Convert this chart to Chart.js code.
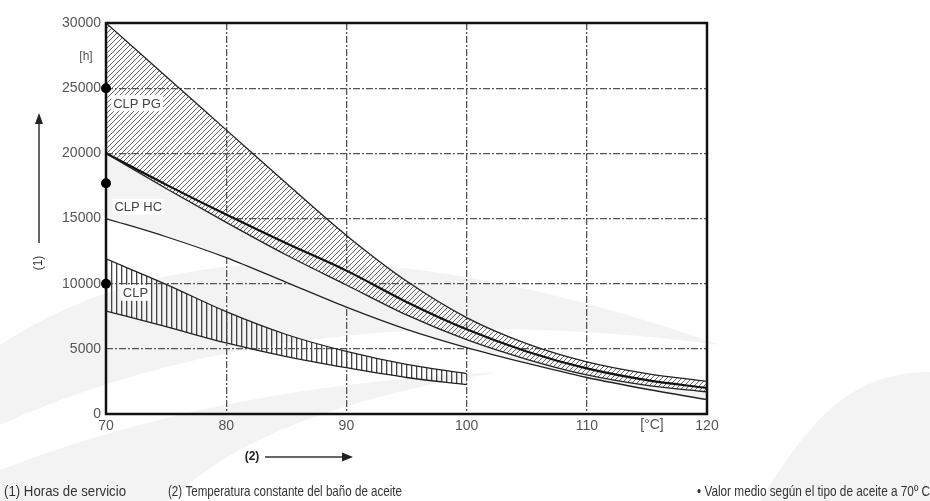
<!DOCTYPE html>
<html>
<head>
<meta charset="utf-8">
<script src="https://cdn.jsdelivr.net/npm/chart.js@4.4.1/dist/chart.umd.min.js"></script>
<style>
html, body { margin: 0; padding: 0; background: #fff; }
canvas { display: block; }
</style>
</head>
<body>
<canvas id="chart" width="930" height="501"></canvas>
<script>
// ================= Data =================
const temps = [70, 75, 80, 85, 90, 95, 100, 105, 110, 115, 120];
const pgUpper = [30000, 25900, 21800, 17700, 13700, 10200, 7400, 5400, 4000, 3100, 2500];
const pgLower = [20000, 17300, 14700, 12200, 9900, 7600, 5700, 4200, 3000, 2200, 1700];
const hcUpper = [20000, 17600, 15300, 13100, 11000, 8600, 6500, 4800, 3500, 2600, 2000];
const hcLower = [15000, 13600, 12000, 10100, 8200, 6500, 5100, 3900, 2800, 1900, 1100];

const clpTemps = [70, 75, 80, 85, 90, 95, 100];
const clpUpper = [11900, 9950, 7850, 6100, 4800, 3800, 3100];
const clpLower = [7900, 6700, 5450, 4400, 3550, 2800, 2250];

const dotTemp = 70;
const dotValues = [25000, 17700, 10000];

const xTicks = [70, 80, 90, 100, 110, 120];
const yTicks = [0, 5000, 10000, 15000, 20000, 25000, 30000];

// label text drawn at data positions
const bandLabels = [
    { text: 'CLP PG', x: 70.6, y: 23850 },
    { text: 'CLP HC', x: 70.7, y: 15900 },
    { text: 'CLP', x: 71.4, y: 9300 }
];
const notes = [
    { text: '(1) Horas de servicio', left: 4, width: 122 },
    { text: '(2) Temperatura constante del baño de aceite', left: 168, width: 234 },
    { text: '\u2022 Valor medio según el tipo de aceite a 70º C', left: 697, width: 233 }
];

function pts(xs, ys) { return xs.map((x, i) => ({ x: x, y: ys[i] })); }

// ================= Hatch patterns =================
function diagHatch() {
    const p = 5;
    const c = document.createElement('canvas');
    c.width = p; c.height = p;
    const g = c.getContext('2d');
    g.strokeStyle = '#555';
    g.lineWidth = 0.9;
    g.beginPath();
    g.moveTo(0, p); g.lineTo(p, 0);
    g.moveTo(-1, 1); g.lineTo(1, -1);
    g.moveTo(p - 1, p + 1); g.lineTo(p + 1, p - 1);
    g.stroke();
    return g.createPattern(c, 'repeat');
}
function vertHatch() {
    const p = 5;
    const c = document.createElement('canvas');
    c.width = p; c.height = p;
    const g = c.getContext('2d');
    g.fillStyle = '#444';
    g.fillRect(1, 0, 1.3, p);
    return g.createPattern(c, 'repeat');
}

// ================= Plugins =================
const backdrop = {
    id: 'backdrop',
    beforeDraw(chart) {
        const ctx = chart.ctx;
        ctx.save();
        ctx.fillStyle = '#fff';
        ctx.fillRect(0, 0, chart.width, chart.height);
        ctx.fillStyle = '#f3f3f3';
        // watermark swooshes
        ctx.beginPath();
        ctx.moveTo(0, 345);
        ctx.quadraticCurveTo(250, 180, 720, 345);
        ctx.quadraticCurveTo(300, 290, 0, 425);
        ctx.closePath();
        ctx.fill();
        ctx.beginPath();
        ctx.moveTo(0, 501);
        ctx.lineTo(0, 470);
        ctx.quadraticCurveTo(220, 385, 500, 372);
        ctx.quadraticCurveTo(260, 410, 170, 501);
        ctx.closePath();
        ctx.fill();
        ctx.beginPath();
        ctx.moveTo(930, 372);
        ctx.bezierCurveTo(850, 372, 810, 420, 760, 501);
        ctx.lineTo(930, 501);
        ctx.closePath();
        ctx.fill();
        ctx.restore();
    }
};

const frame = {
    id: 'frame',
    beforeDatasetsDraw(chart) {
        const a = chart.chartArea, ctx = chart.ctx;
        ctx.save();
        ctx.strokeStyle = '#111';
        ctx.lineWidth = 2.5;
        ctx.strokeRect(a.left, a.top, a.right - a.left, a.bottom - a.top);
        ctx.restore();
    }
};

const texts = {
    id: 'texts',
    afterDraw(chart) {
        const ctx = chart.ctx, xs = chart.scales.x, ys = chart.scales.y;
        ctx.save();
        ctx.textBaseline = 'middle';
        ctx.fillStyle = '#555';
        ctx.font = "12px 'Liberation Sans', Arial, sans-serif";
        ctx.textAlign = 'center';
        ctx.fillText('[h]', 86, 57);
        ctx.font = "14px 'Liberation Sans', Arial, sans-serif";
        ctx.fillText('[°C]', 652, 425);

        // band names
        ctx.font = "13px 'Liberation Sans', Arial, sans-serif";
        ctx.textAlign = 'left';
        bandLabels.forEach(l => {
            const px = xs.getPixelForValue(l.x), py = ys.getPixelForValue(l.y);
            const w = ctx.measureText(l.text).width;
            ctx.fillStyle = '#fff';
            ctx.fillRect(px - 2, py - 8, w + 4, 16);
            ctx.fillStyle = '#444';
            ctx.fillText(l.text, px, py + 1);
        });

        // (1) vertical arrow
        ctx.strokeStyle = '#333';
        ctx.fillStyle = '#222';
        ctx.lineWidth = 1.5;
        ctx.beginPath();
        ctx.moveTo(39, 243); ctx.lineTo(39, 122);
        ctx.stroke();
        ctx.beginPath();
        ctx.moveTo(39, 113); ctx.lineTo(35, 124); ctx.lineTo(43, 124);
        ctx.closePath(); ctx.fill();
        ctx.save();
        ctx.translate(39, 263);
        ctx.rotate(-Math.PI / 2);
        ctx.textAlign = 'center';
        ctx.font = "12px 'Liberation Sans', Arial, sans-serif";
        ctx.fillStyle = '#333';
        ctx.fillText('(1)', 0, 0);
        ctx.restore();

        // (2) horizontal arrow
        ctx.textAlign = 'center';
        ctx.font = "bold 12px 'Liberation Sans', Arial, sans-serif";
        ctx.fillText('(2)', 252, 457);
        ctx.beginPath();
        ctx.moveTo(265, 457); ctx.lineTo(343, 457);
        ctx.stroke();
        ctx.beginPath();
        ctx.moveTo(353, 457); ctx.lineTo(342, 452.5); ctx.lineTo(342, 461.5);
        ctx.closePath(); ctx.fill();

        // notes under the chart
        ctx.textAlign = 'left';
        ctx.fillStyle = '#333';
        ctx.font = "15px 'Liberation Sans Narrow', 'Liberation Sans', Arial, sans-serif";
        notes.forEach(n => ctx.fillText(n.text, n.left, 492, n.width));
        ctx.restore();
    }
};

// ================= Chart =================
const gridColor = c => (c.tick && (c.tick.value === xTicks[0] || c.tick.value === xTicks[xTicks.length - 1])) ? 'rgba(0,0,0,0)' : '#555';
const gridColorY = c => (c.tick && (c.tick.value === yTicks[0] || c.tick.value === yTicks[yTicks.length - 1])) ? 'rgba(0,0,0,0)' : '#555';
const lineStyle = { pointRadius: 0, borderColor: '#222', borderWidth: 1.3, cubicInterpolationMode: 'monotone' };

const chart = new Chart(document.getElementById('chart').getContext('2d'), {
    type: 'line',
    data: {
        datasets: [
            { label: 'dots', data: dotValues.map(v => ({ x: dotTemp, y: v })), showLine: false,
              pointRadius: 5, pointBackgroundColor: '#000', pointBorderWidth: 0, clip: false },
            { label: 'CLP PG max', data: pts(temps, pgUpper), ...lineStyle, fill: '+1', backgroundColor: diagHatch() },
            { label: 'CLP PG min', data: pts(temps, pgLower), ...lineStyle, fill: false },
            { label: 'CLP max', data: pts(clpTemps, clpUpper), ...lineStyle, fill: '+1', backgroundColor: vertHatch() },
            { label: 'CLP min', data: pts(clpTemps, clpLower), ...lineStyle, fill: false },
            { label: 'CLP HC max', data: pts(temps, hcUpper), ...lineStyle, borderWidth: 2.2, borderColor: '#111', fill: '+1', backgroundColor: '#f3f3f3' },
            { label: 'CLP HC min', data: pts(temps, hcLower), ...lineStyle, fill: false }
        ]
    },
    options: {
        responsive: false,
        animation: false,
        devicePixelRatio: 1,
        layout: { padding: { left: 0, right: 223, top: 23, bottom: 0 } },
        plugins: { legend: { display: false }, tooltip: { enabled: false }, filler: { drawTime: 'beforeDatasetsDraw' } },
        scales: {
            x: {
                type: 'linear', min: 70, max: 120,
                afterBuildTicks: s => { s.ticks = xTicks.map(v => ({ value: v })); },
                afterFit: s => { s.height = 87; },
                ticks: { color: '#555', padding: 4, callback: v => String(v), font: { family: "'Liberation Sans', Arial", size: 14 } },
                grid: { color: gridColor, lineWidth: 1.3, drawTicks: false },
                border: { display: false, dash: [7, 2, 2, 2] }
            },
            y: {
                min: 0, max: 30000,
                afterBuildTicks: s => { s.ticks = yTicks.map(v => ({ value: v })); },
                afterFit: s => { s.width = 106; },
                ticks: { color: '#555', padding: 5, callback: v => String(v), font: { family: "'Liberation Sans', Arial", size: 14 } },
                grid: { color: gridColorY, lineWidth: 1.3, drawTicks: false },
                border: { display: false, dash: [7, 2, 2, 2] }
            }
        }
    },
    plugins: [backdrop, frame, texts]
});
</script>
</body>
</html>
